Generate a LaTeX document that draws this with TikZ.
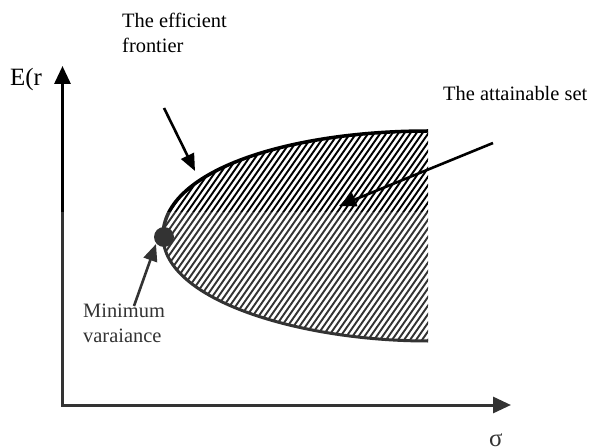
\documentclass[tikz,border=0pt]{standalone}
\usepackage{fontspec}
\setmainfont{Liberation Serif}
\usetikzlibrary{arrows.meta}
\begin{document}
\begin{tikzpicture}[x=1bp,y=-1bp,
  lbl/.style={anchor=base west, inner sep=0pt, font=\fontsize{20.5}{24}\selectfont},
  biglbl/.style={anchor=base west, inner sep=0pt, font=\fontsize{25}{28}\selectfont},
  axis/.style={line width=3bp, -{Triangle[length=18bp,width=16bp]}},
  pointer/.style={line width=2.6bp, -{Triangle[length=17bp,width=14bp]}},
  hatchline/.style={line width=1.9bp}]
\useasboundingbox (0,0) rectangle (593,448);
% hatched attainable set
\begin{scope}
\clip (428,131) .. controls (290,131) and (163,170) .. (163,236)
      .. controls (163,300) and (300,341) .. (428,341) -- cycle;
\foreach \i in {-3,...,73} \draw[hatchline] (\i*6,360) -- ++(220,-315);
\end{scope}
% frontier curves
\draw[line width=3.5bp] (428,131) .. controls (290,131) and (163,170) .. (163,236);
\draw[line width=3bp] (163,236) .. controls (163,300) and (300,341) .. (428,341);
\node[circle, fill=black, minimum size=20bp, inner sep=0pt] (mv) at (164,237) {};
% axes
\coordinate (O) at (62.5,405);
\coordinate (ytip) at (62.5,66);
\coordinate (xtip) at (511,405);
\draw[axis, line cap=rect] (O) -- (ytip);
\draw[axis, line cap=rect] (O) -- (xtip);
% labels
\node[lbl] (eff1) at (122,28) {The efficient};
\node[lbl] (eff2) at (122,53) {frontier};
\node[biglbl] (Er) at (10,86) {E(r};
\node[lbl] (att) at (443,101) {The attainable set};
\node[lbl] (min1) at (83,317) {Minimum};
\node[lbl] (min2) at (83,342) {varaiance};
\node[biglbl] (sig) at (489,446) {σ};
% pointers
\coordinate (effs) at (164,108);
\coordinate (efft) at (195,171);
\coordinate (atts) at (493,143);
\coordinate (attt) at (339,206);
\coordinate (mins) at (134,306);
\coordinate (mint) at (156,244);
\draw[pointer] (effs) -- (efft);
\draw[pointer] (atts) -- (attt);
\draw[pointer] (mins) -- (mint);
% lighter lower part (as in the reference)
\fill[white, opacity=0.2] (0,212) rectangle (593,448);
\end{tikzpicture}
\end{document}
